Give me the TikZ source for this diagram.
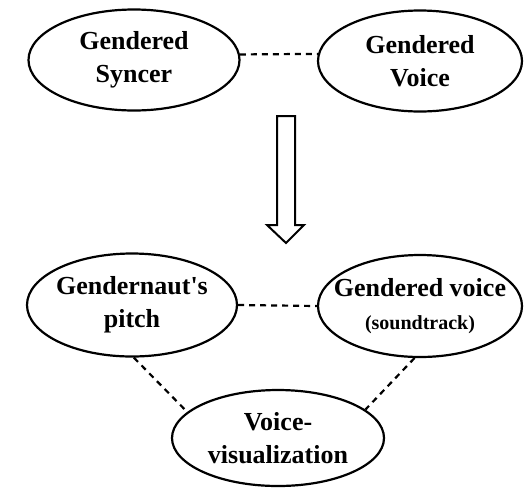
\documentclass[tikz,border=0pt]{standalone}
\usepackage{fontspec}
\setmainfont{Liberation Serif}
\usetikzlibrary{shapes.geometric}
\begin{document}
\begin{tikzpicture}[x=1pt,y=-1pt,
  oval/.style={ellipse,draw,line width=2.2pt,inner xsep=-25pt,inner ysep=-4pt,align=center,
    font=\fontsize{26}{33}\selectfont\bfseries},
  link/.style={dashed,line width=2.2pt,dash pattern=on 6pt off 5pt}]
\useasboundingbox (0,0) rectangle (526,491);
\node[oval,minimum width=211pt,minimum height=101pt] (A) at (134,60) {Gendered\\Syncer};
\node[oval,minimum width=204pt,minimum height=101pt] (B) at (420,61) {Gendered\\Voice};
\node[oval,minimum width=210pt,minimum height=103pt] (C) at (132,305) {Gendernaut\textquotesingle s\\pitch};
\node[oval,minimum width=204pt,minimum height=102pt] (D) at (420,306) {Gendered voice\\{\fontsize{20}{26}\selectfont (soundtrack)}};
\node[oval,minimum width=212pt,minimum height=96pt] (E) at (278,438) {Voice-\\visualization};
\draw[link] (A.3) -- (B.176);
\draw[link] (C.east) -- (D.west);
\draw[link] (C.-88) -- (E.164);
\draw[link] (D.-96) -- (E.18);
\draw[line width=2pt,fill=white,line join=miter]
  (277,116) -- (295,116) -- (295,225) -- (304,225) -- (286,243) -- (267,225) -- (277,225) -- cycle;
\end{tikzpicture}
\end{document}
